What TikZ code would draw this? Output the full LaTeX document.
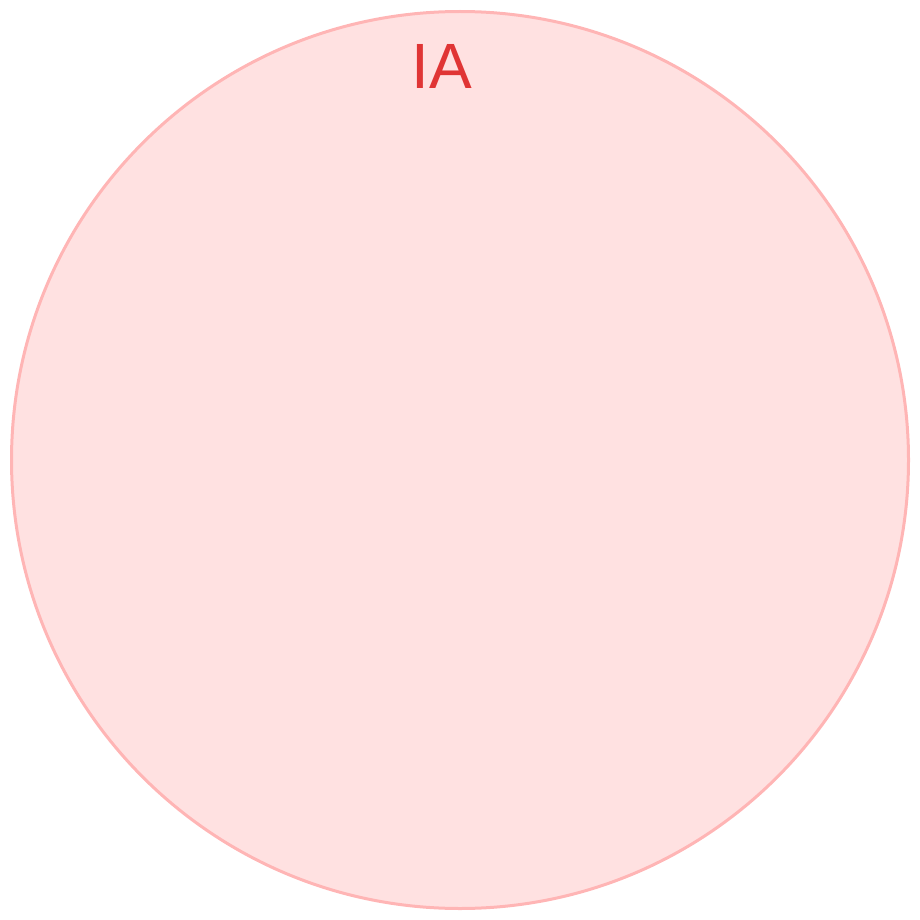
\documentclass[tikz,border=0pt]{standalone}
\usepackage{fontspec}
\setmainfont{Liberation Sans}
\definecolor{cfill}{HTML}{FFE1E1}
\definecolor{cline}{HTML}{FFB5B5}
\definecolor{ctext}{HTML}{E03535}
\begin{document}
\begin{tikzpicture}[x=1pt,y=-1pt,
  setcircle/.style={circle,draw=cline,fill=cfill,line width=3pt,minimum size=897pt,inner sep=0pt},
  setlabel/.style={text=ctext,font=\fontsize{64}{64}\selectfont,inner sep=0pt}]
\useasboundingbox (0,0) rectangle (920,920);
\node[setcircle] (A) at (460,460) {};
\node[setlabel,anchor=base] (lab) at (442,89) {IA};
\end{tikzpicture}
\end{document}
